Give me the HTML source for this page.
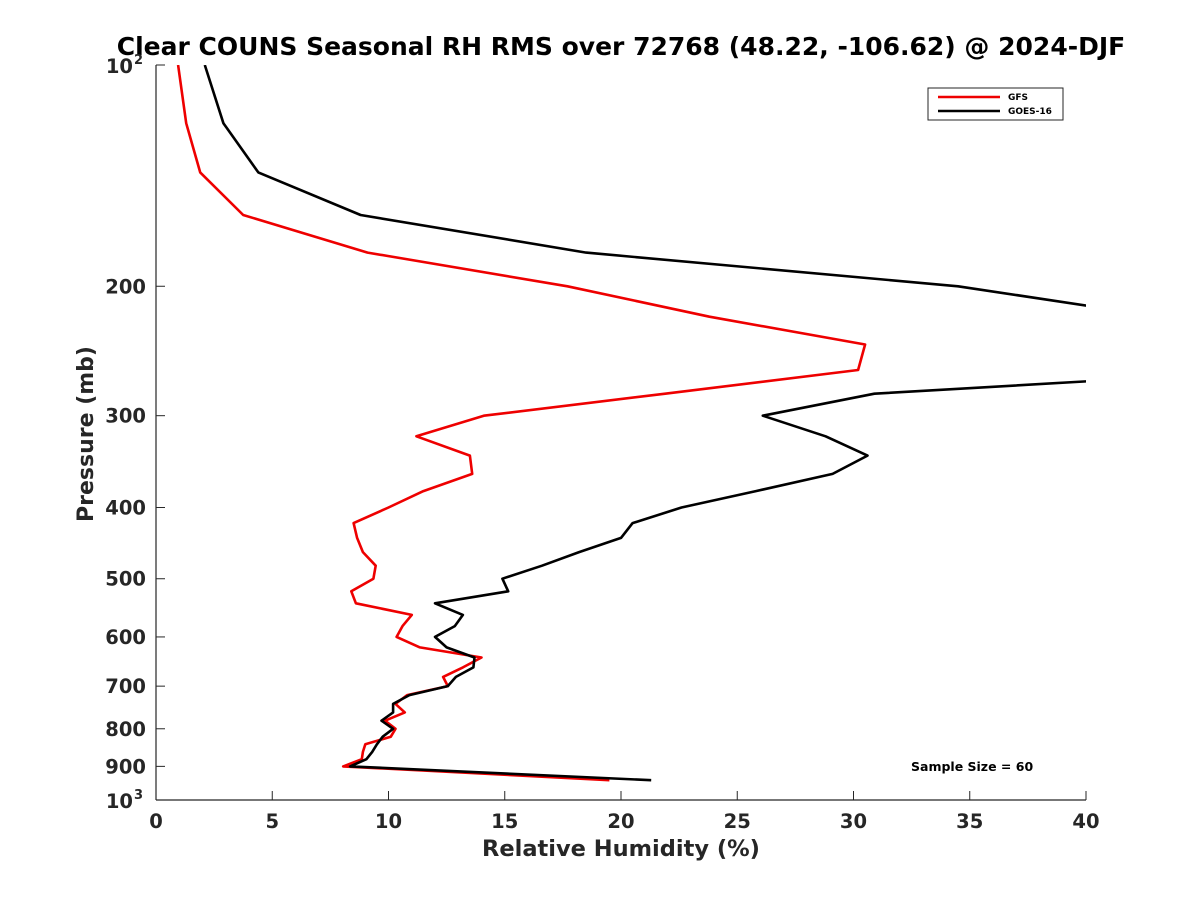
<!DOCTYPE html>
<html><head><meta charset="utf-8"><style>
body{margin:0;background:#fff;}
svg text{font-family:"DejaVu Sans","Liberation Sans",sans-serif;font-weight:bold;fill:#262626;}
</style></head><body>
<svg id="c" width="1200" height="900">
<defs><clipPath id="pa"><rect x="156" y="65" width="930" height="735"/></clipPath></defs>
<text x="621" y="55" text-anchor="middle" font-size="25" style="fill:#000">Clear COUNS Seasonal RH RMS over 72768 (48.22, -106.62) @ 2024-DJF</text>
<g id="axes"></g>
<g id="series" clip-path="url(#pa)"></g>
<text x="621" y="856" text-anchor="middle" font-size="22.5">Relative Humidity (%)</text>
<text transform="translate(93,434) rotate(-90)" text-anchor="middle" font-size="22">Pressure (mb)</text>
<g>
<rect x="928" y="88" width="135" height="32" fill="#fff" stroke="#262626" stroke-width="1"/>
<g><line x1="938" y1="97" x2="1000" y2="97" stroke="#e00" stroke-width="2.5"/><text x="1008" y="100" font-size="9" style="fill:#000">GFS</text></g>
<g><line x1="938" y1="111" x2="1000" y2="111" stroke="#000" stroke-width="2.5"/><text x="1008" y="114" font-size="9" style="fill:#000">GOES-16</text></g>
</g>
<text x="911" y="771" font-size="12.5" style="fill:#000">Sample Size = 60</text>
</svg>
<script>
const pressures=[100,120,140,160,180,200,220,240,260,280,300,320,340,360,380,400,420,440,460,480,500,520,540,560,580,600,620,640,660,680,700,720,740,760,780,800,820,840,860,880,900,940];
const gfsRH=[0.95,1.3,1.9,3.75,9.1,17.7,23.8,30.5,30.2,21.9,14.1,11.2,13.5,13.6,11.5,10.0,8.5,8.65,8.9,9.45,9.35,8.4,8.6,11.0,10.6,10.35,11.35,14.0,13.2,12.35,12.55,10.8,10.3,10.7,9.85,10.3,10.1,9.0,8.9,8.85,8.05,19.5];
const goesRH=[2.1,2.9,4.4,8.8,18.5,34.5,43.2,50,48.4,30.9,26.1,28.8,30.6,29.1,25.8,22.6,20.5,20.0,18.2,16.6,14.9,15.15,12.0,13.2,12.85,12.0,12.5,13.7,13.65,12.9,12.55,10.9,10.2,10.2,9.7,10.2,9.75,9.5,9.3,9.05,8.35,21.3];
const xTicks=[0,5,10,15,20,25,30,35,40];
const yTicks=[200,300,400,500,600,700,800,900];
const X0=156,X1=1086,Y0=65,Y1=800;
const xs=v=>X0+(v-0)/40*(X1-X0);
const ys=p=>Y0+Math.log10(p/100)*(Y1-Y0);
const NS='http://www.w3.org/2000/svg';
const ax=document.getElementById('axes'),sr=document.getElementById('series');
function mk(t,a,par){const e=document.createElementNS(NS,t);for(const k in a)e.setAttribute(k,a[k]);par.appendChild(e);return e;}
const xl=mk('line',{x1:X0,y1:Y1,x2:X1,y2:Y1,stroke:'#262626','stroke-width':1.2},ax);


const yl=mk('line',{x1:X0,y1:Y0,x2:X0,y2:Y1,stroke:'#262626','stroke-width':1.2},ax);


xTicks.forEach(v=>{const x=xs(v);
 mk('line',{x1:x,y1:Y1,x2:x,y2:Y1-9,stroke:'#262626','stroke-width':1},ax);
 const t=mk('text',{x:x,y:828,'text-anchor':'middle','font-size':19.5},ax);t.textContent=v;
 
 });
for(let d=100;d<=1000;d+=100){const y=ys(d);
 mk('line',{x1:X0,y1:y,x2:X0+9,y2:y,stroke:'#262626','stroke-width':1},ax);}
yTicks.forEach(p=>{const t=mk('text',{x:146,y:ys(p)+7,'text-anchor':'end','font-size':19.5},ax);t.textContent=p;
 
 });
[[100,'2'],[1000,'3']].forEach(([p,e])=>{const t=mk('text',{x:133,y:ys(p)+8,'text-anchor':'end','font-size':19.5},ax);t.textContent='10';
 
 
 const s=mk('text',{x:134,y:ys(p)-1,'font-size':13},ax);s.textContent=e;});
function line(vals,col,name){const pts=vals.map((v,i)=>xs(v).toFixed(1)+','+ys(pressures[i]).toFixed(1)).join(' ');
 const l=mk('polyline',{points:pts,fill:'none',stroke:col,'stroke-width':2.6,'stroke-linejoin':'round'},sr);
 
 }
line(gfsRH,'#e00','gfs-line');
line(goesRH,'#000','goes16-line');
</script>
</body></html>
